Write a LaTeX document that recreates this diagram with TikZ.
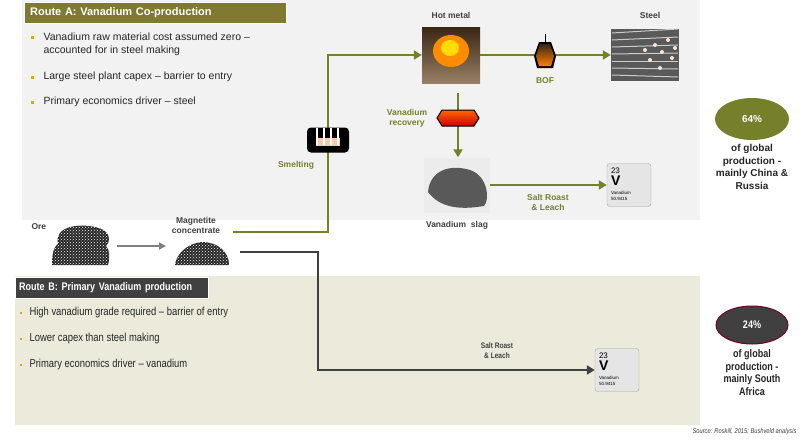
\documentclass[tikz,border=0pt]{standalone}
\usepackage{fontspec}
\setmainfont{Liberation Sans}
\newfontfamily\narrowf{Liberation Sans}[FakeStretch=0.82]
\usetikzlibrary{arrows.meta,shapes.geometric,patterns}
\definecolor{olive}{HTML}{76802A}
\definecolor{hdrA}{HTML}{7F7A30}
\definecolor{greyA}{HTML}{F2F2F2}
\definecolor{beige}{HTML}{EBEADB}
\definecolor{dk}{HTML}{404040}
\definecolor{bul}{HTML}{E0A800}
\tikzset{
 x=1pt,y=-1pt,
 lbl/.style={font=\bfseries\fontsize{8.5}{10}\selectfont,text=dk,align=center},
 glbl/.style={font=\bfseries\fontsize{8.5}{10}\selectfont,text=olive,align=center},
 bullet/.style={font=\fontsize{10.5}{13}\selectfont,text=black!85,anchor=west,align=left},
 bulletB/.style={font=\narrowf\fontsize{11.5}{13}\selectfont,text=black!85,anchor=west,align=left},
 gline/.style={olive,line width=2.6pt,-{Triangle[length=8pt,width=9pt]}},
 dline/.style={dk,line width=2.4pt,-{Triangle[length=8pt,width=9pt]}},
 tile/.style={draw=gray!70,fill=gray!20,rounded corners=3pt,minimum width=44pt,minimum height=43pt},
 share/.style={font=\bfseries\fontsize{10}{12.5}\selectfont,text=black!85,align=center}
}
\newcommand{\vtile}[2]{%
 \node[tile] (#1) at #2 {};
 \node[anchor=north west,inner sep=0,font=\fontsize{8}{8}\selectfont] at ([shift={(4pt,-4pt)}]#1.north west) {23};
 \node[anchor=north west,inner sep=0,font=\bfseries\fontsize{14}{14}\selectfont] at ([shift={(4pt,-12pt)}]#1.north west) {V};
 \node[anchor=north west,inner sep=0,font=\fontsize{4.5}{5.5}\selectfont,align=left] at ([shift={(4pt,-28pt)}]#1.north west) {Vanadium\\50.9415};}
\newcommand{\orepile}[1]{%
 \fill[black!85] #1;
 \path[pattern=crosshatch dots,pattern color=white] #1;}
\begin{document}
\begin{tikzpicture}
\useasboundingbox (0,0) rectangle (805,442);
\fill[white] (0,0) rectangle (805,442);
% panels
\fill[greyA] (22,0) rectangle (700,220);
\fill[beige] (15,276) rectangle (700,425);
% headers
\node[fill=hdrA,draw=white,text=white,font=\bfseries\fontsize{11}{12}\selectfont,anchor=north west,minimum width=262pt,minimum height=21pt,text width=250pt,align=left] (hA) at (24,2) {Route A: Vanadium Co-production};
\node[fill=dk,draw=white,text=white,font=\narrowf\bfseries\fontsize{11}{12}\selectfont,anchor=north west,minimum width=193pt,minimum height=21pt,text width=185pt,align=left] (hB) at (15,277) {Route B: Primary Vanadium production};
% bullets A
\foreach \yy in {37,77,102}{\fill[bul] (31,\yy-1.5) rectangle (34,\yy+1.5);}
\node[bullet] (a1) at (40,44) {Vanadium raw material cost assumed zero –\\accounted for in steel making};
\node[bullet] (a2) at (40,77) {Large steel plant capex – barrier to entry};
\node[bullet] (a3) at (40,102) {Primary economics driver – steel};
\foreach \yy in {313,339,365}{\fill[bul] (20,\yy-1) rectangle (22,\yy+1);}
\node[bulletB] (b1) at (26,313) {High vanadium grade required – barrier of entry};
\node[bulletB] (b2) at (26,339) {Lower capex than steel making};
\node[bulletB] (b3) at (26,365) {Primary economics driver – vanadium};
% ore piles
\node[lbl,anchor=west] (ore) at (28,227) {Ore};
\orepile{(52,265) .. controls (52,250) and (55,246) .. (58,244) .. controls (56,236) and (60,230) .. (70,227) .. controls (82,224) and (100,226) .. (106,232) .. controls (110,236) and (110,242) .. (106,246) .. controls (110,250) and (110,258) .. (108,265) -- cycle}
\coordinate (oreR) at (117,246);
\node[lbl] (mag) at (196,225) {Magnetite\\concentrate};
\orepile{(175,265) .. controls (176,254) and (188,243) .. (202,242) .. controls (218,242) and (229,252) .. (229,265) -- cycle}
\coordinate (magL) at (166,246);
\draw[gray,line width=2pt,-{Triangle[length=7pt,width=7pt]}] (oreR) -- (magL);
% hot metal
\node[lbl] (hmL) at (451,15) {Hot metal};
\node[minimum width=58pt,minimum height=56pt,inner sep=0,top color=black!70!brown,bottom color=gray!60!brown] (hm) at (451,55) {};
\fill[orange!90!yellow] (451,51) ellipse (18 and 16);
\fill[yellow!80!orange] (450,48) ellipse (9 and 8);
\node[lbl] (stL) at (650,15) {Steel};
\node[minimum width=68pt,minimum height=52pt,inner sep=0,fill=black!65] (st) at (645,55) {};
\foreach \i in {0,...,6}{\draw[gray!40,line width=1pt] (612,33+\i*7) -- (678,29+\i*8);}
\foreach \i/\j in {655/45,662/52,668/40,650/60,672/58,660/68,645/50,675/48}{\fill[white!80!brown] (\i,\j) circle (2);}
% BOF
\node[glbl] (bofL) at (545,81) {BOF};
\coordinate (bof) at (545,55);
\node[glbl] (smL) at (296,165) {Smelting};
% slag
\node[minimum width=66pt,minimum height=55pt,inner sep=0,fill=gray!15] (sl) at (457,185) {};
\fill[black!65] (428,192) .. controls (430,170) and (450,164) .. (470,170) .. controls (488,176) and (490,200) .. (484,206) .. controls (460,210) and (440,208) .. (428,192) -- cycle;
\node[lbl] (slL) at (457,225) {Vanadium\ \ slag};
% vanadium recovery
\coordinate (vrTop) at (458,93);
\node[glbl] (vrL) at (407,118) {Vanadium\\recovery};
% element tiles
\vtile{v1}{(629,185)}
\vtile{v2}{(617,370)}
% connectors route A
\coordinate (magR) at (233,232);
\draw[gline] (magR) -- (328,232) -- (328,55) -- (hm.west);
\draw[gline,-] (hm.east) -- (bof);
\draw[gline] (bof) -- (st.west);
\draw[gline] (vrTop) -- (sl.north -| vrTop);
\draw[gline] (sl.east) -- (v1.west);
\node[glbl] (srA) at (548,202) {Salt Roast\\\& Leach};
% icons on top of lines
\node[fill=black,rounded corners=4pt,minimum width=42pt,minimum height=25pt,inner sep=0] (sm) at (328,140) {};
\fill[pink!60!orange!60] (316,138) rectangle (340,146);
\foreach \xx in {318,325,332,339}{\draw[white,line width=1.5pt] (\xx-1,128) -- (\xx-1,145);}
\shade[top color=orange!80!red,bottom color=red!80!black,draw=black,line width=1pt] (442,110) -- (474,110) -- (479,118) -- (474,126) -- (442,126) -- (437,118) -- cycle;
\fill[black] (539,42) -- (551,42) -- (556,56) -- (553,68) -- (537,68) -- (534,56) -- cycle;
\shade[top color=black!70!brown,bottom color=orange] (540,44) -- (550,44) -- (554,56) -- (551,66) -- (539,66) -- (536,56) -- cycle;
\draw[black,line width=0.8pt] (545,34) -- (545,42);
% route B
\coordinate (magR2) at (240,252);
\draw[dline] (magR2) -- (318,252) -- (318,370) -- (v2.west);
\node[font=\narrowf\bfseries\fontsize{8}{10}\selectfont,text=dk,align=center] (srB) at (497,351) {Salt Roast\\\& Leach};
% shares
\node[ellipse,fill=olive,minimum width=74pt,minimum height=42pt,text=white,font=\bfseries\fontsize{10}{12}\selectfont] (p64) at (752,119) {64\%};
\node[share,anchor=north] (t64) at (752,141) {of global\\production -\\mainly China \&\\Russia};
\node[ellipse,fill=dk,draw=purple!60!black,line width=1pt,minimum width=72pt,minimum height=38pt,text=white,font=\narrowf\bfseries\fontsize{11}{12}\selectfont] (p24) at (752,325) {24\%};
\node[share,font=\narrowf\bfseries\fontsize{11}{12.5}\selectfont,anchor=north] (t24) at (752,346) {of global\\production -\\mainly South\\Africa};
\node[anchor=east,font=\narrowf\itshape\fontsize{7}{8}\selectfont,text=dk] (src) at (800,432) {Source: Roskill, 2015; Bushveld analysis};
\end{tikzpicture}
\end{document}
